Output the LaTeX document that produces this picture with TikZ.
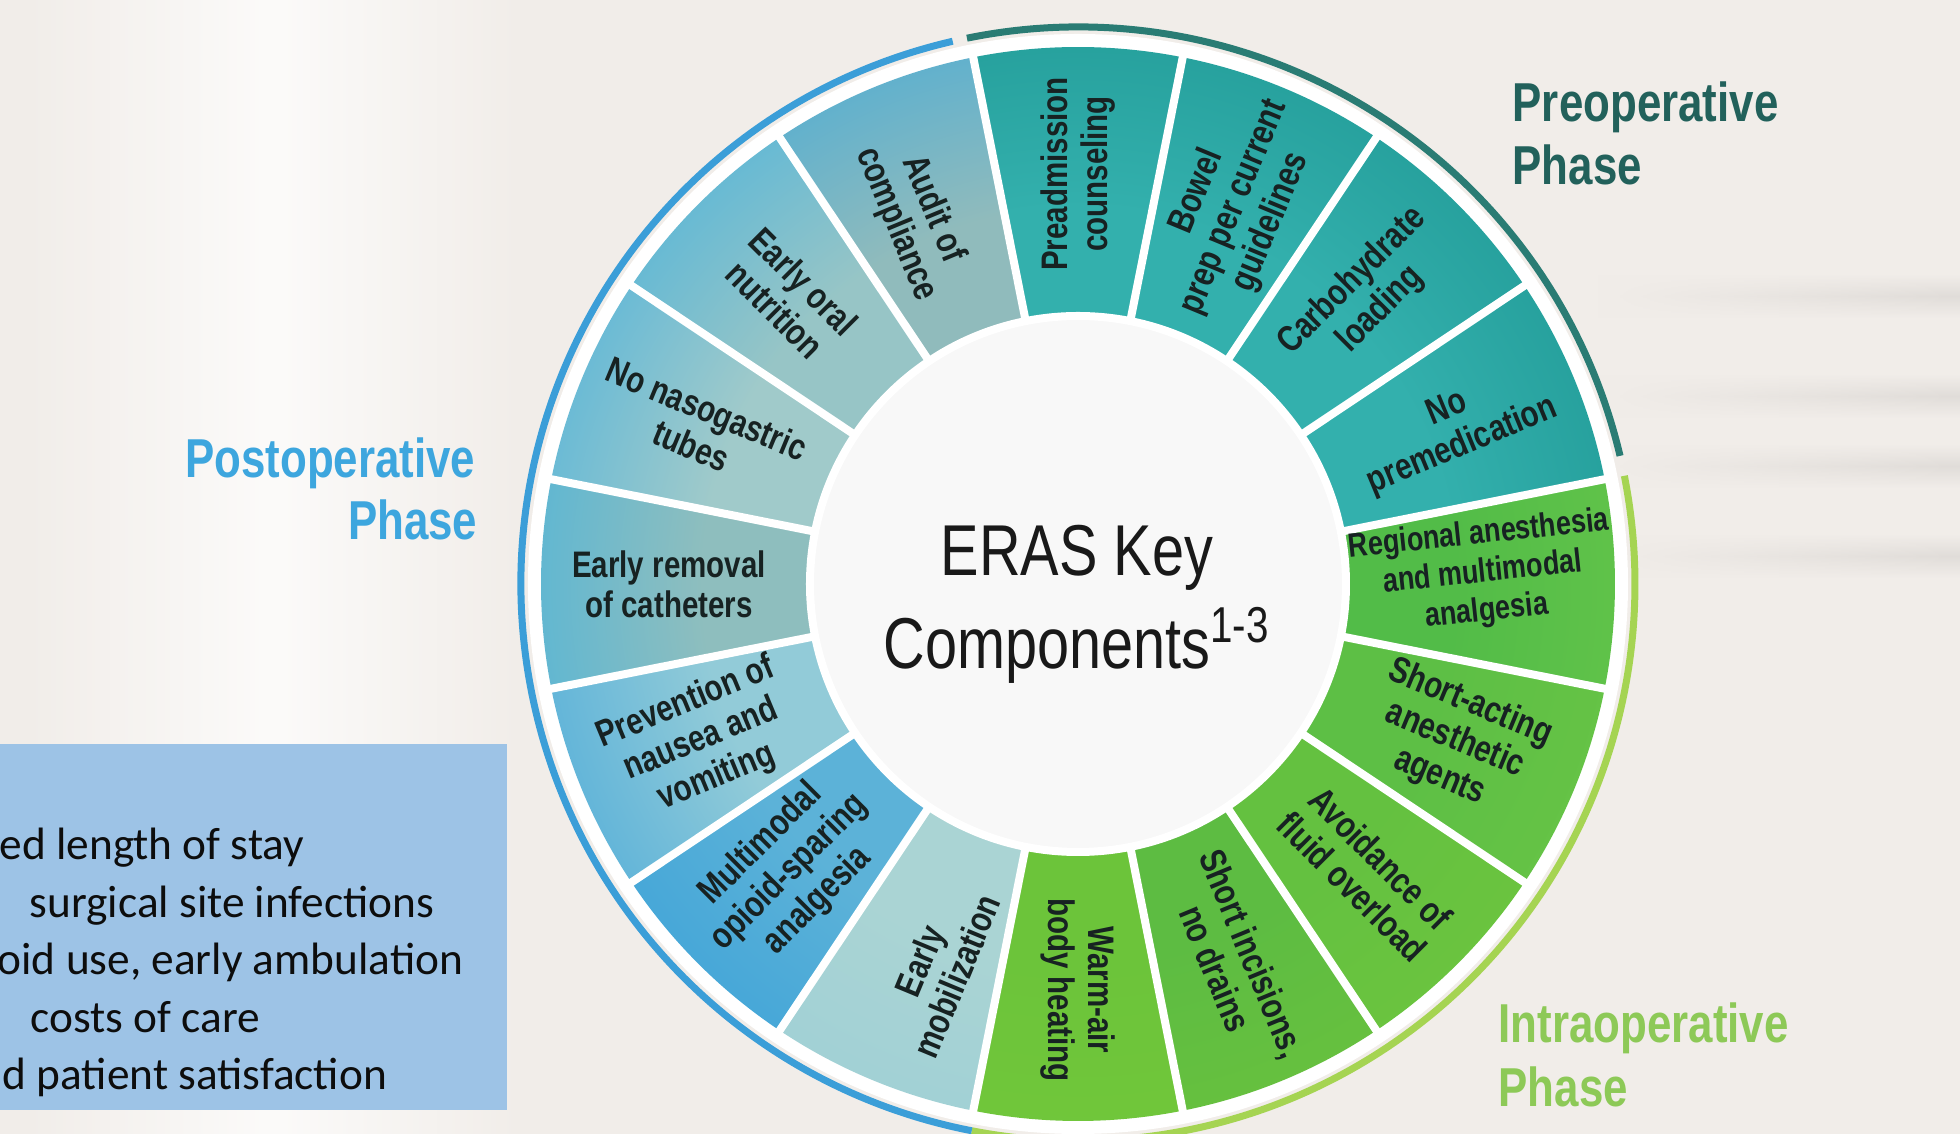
\documentclass[tikz,border=0pt]{standalone}
\usepackage{fontspec}
\setmainfont{Liberation Sans}[FakeStretch=0.8]
\newfontfamily\boxfont{Carlito}
\usetikzlibrary{positioning,fadings}

\definecolor{bg}{HTML}{F1EDE9}
\definecolor{labeltext}{HTML}{172222}
\definecolor{preteal}{HTML}{22615B}
\definecolor{prering}{HTML}{2A7C74}
\definecolor{postblue}{HTML}{3DA6DE}
\definecolor{postring}{HTML}{3B9ED8}
\definecolor{intragreen}{HTML}{8DC957}
\definecolor{intraring}{HTML}{A5D452}
\definecolor{boxblue}{HTML}{9DC3E6}
\definecolor{hub}{HTML}{F8F8F8}
\definecolor{segin}{HTML}{FFFFFF}
\definecolor{segout}{HTML}{FFFFFF}

% ring shading, stretched over the circle's diagonal box:
% segin at the hub edge (17.5bp), segout towards the rim
\pgfdeclareradialshading[segin,segout]{segshade}{\pgfpoint{0bp}{0bp}}{color(0bp)=(segin); color(17.5bp)=(segin); color(32bp)=(segout); color(50bp)=(segout)}
\tikzfading[name=fadein, left color=transparent!100, right color=transparent!0]

\begin{document}
\begin{tikzpicture}[x=0.1mm, y=0.1mm,
    seglabel/.style={font=\fontsize{10.5}{11.4}\selectfont\bfseries, text=labeltext, align=center, inner sep=0pt},
    phase/.style={font=\fontsize{15.6}{18}\selectfont\bfseries, inner sep=0pt},
    title/.style={font=\fontsize{20.5}{24}\selectfont, text=black!90, inner sep=0pt, anchor=base},
    gain/.style={font=\boxfont\fontsize{12.9}{15}\selectfont, text=black!95, inner sep=0pt, anchor=base west},
    sep/.style={white, line width=0.8mm},
    ring/.style={line width=0.7mm}]
\useasboundingbox (-1078,-550) rectangle (882,584);
\fill[bg] (-1078,-550) rectangle (882,584);
% soft light and grey patches of the backdrop
\shade[left color=bg, right color=bg, middle color=white!75!bg] (-1050,-550) rectangle (-560,584);
\foreach \yb in {310,210,140,50}
  \shade[top color=bg, bottom color=bg, middle color=black!7!bg, path fading=fadein] (520,\yb) rectangle (882,\yb-44);

% white halo behind the wheel
\fill[white] (0,0) circle (550);

% sixteen segments: centre angle / hub colour / rim colour
\foreach \a/\ci/\co in {0/52BC48/6CC84A, 22.5/33B0AD/1C9490, 45/33B0AD/1C9490, 67.5/33B0AD/1C9490,
    90/33B0AD/1C9490, 112.5/90BBBC/38A8DC, 135/97C5C6/3DB0E0, 157.5/A0CACA/3BADDF,
    180/8EBEBE/3AB1E2, 202.5/92CBD8/39A2DA, 225/5CB2D8/349ED8, 247.5/AAD4D4/9ACED6,
    270/6CC43A/74C83B, 292.5/5DBC42/6EC43C, 315/64C140/70C63E, 337.5/5DBF45/6CC646}{
  \begin{scope}
    \clip ({\a-11.25}:266) arc[start angle=\a-11.25, end angle=\a+11.25, radius=266]
      -- ({\a+11.25}:537) arc[start angle=\a+11.25, end angle=\a-11.25, radius=537] -- cycle;
    \definecolor{segin}{HTML}{\ci}\definecolor{segout}{HTML}{\co}
    \shade[shading=segshade] (0,0) circle (537);
  \end{scope}
}
\foreach \b in {11.25,33.75,...,350}
  \draw[sep] (\b:255) -- (\b:546);

% hub
\fill[hub] (0,0) circle (268);
\draw[white, line width=0.8mm] (0,0) circle (268);

% phase arcs
\draw[prering, ring] (101.5:557) arc[start angle=101.5, end angle=13.3, radius=557];
\draw[intraring, ring] (11.2:557) arc[start angle=11.2, end angle=-101, radius=557];
\draw[postring, ring] (103:557) arc[start angle=103, end angle=259, radius=557];

\node[title] (eras) at (-1,8) {ERAS Key};
\node[title] (comp) at (-1,-85) {Components\textsuperscript{1-3}};

% preoperative
\node[seglabel, rotate=90] (pre1) at (90:410) {Preadmission\\counseling};
\node[seglabel, rotate=67.5] (pre2) at (67.5:408) {Bowel\\prep per current\\guidelines};
\node[seglabel, rotate=45] (pre3) at (45:408) {Carbohydrate\\loading};
\node[seglabel, rotate=22.5] (pre4) at (22.5:408) {No\\premedication};
% intraoperative
\node[seglabel, rotate=6, font=\fontsize{9.6}{11}\selectfont\bfseries] (intra1) at (1.5:405) {Regional anesthesia\\and multimodal\\analgesia};
\node[seglabel, rotate=-22.5] (intra2) at (-22.5:408) {Short-acting\\anesthetic\\agents};
\node[seglabel, rotate=-45] (intra3) at (-45:408) {Avoidance of\\fluid overload};
\node[seglabel, rotate=-67.5] (intra4) at (-67.5:408) {Short incisions,\\no drains};
\node[seglabel, rotate=-90] (intra5) at (-90:406) {Warm-air\\body heating};
% postoperative
\node[seglabel, rotate=67.5] (post1) at (250:409) {Early\\mobilization};
\node[seglabel, rotate=45] (post2) at (225:408) {Multimodal\\opioid-sparing\\analgesia};
\node[seglabel, rotate=22.5] (post3) at (202.5:408) {Prevention of\\nausea and\\vomiting};
\node[seglabel] (post4) at (180:409) {Early removal\\of catheters};
\node[seglabel, rotate=-22.5] (post5) at (157.5:410) {No nasogastric\\tubes};
\node[seglabel, rotate=-45] (post6) at (135:408) {Early oral\\nutrition};
\node[seglabel, rotate=-67.5] (post7) at (114:402) {Audit of\\compliance};

% phase titles
\node[phase, text=preteal, anchor=base west] (pretitle) at (434,462) {Preoperative};
\node[phase, text=preteal, anchor=base west] (prephase) at (434,399) {Phase};
\node[phase, text=postblue, anchor=base east] (posttitle) at (-602,106) {Postoperative};
\node[phase, text=postblue, anchor=base east] (postphase) at (-600,44) {Phase};
\node[phase, text=intragreen, anchor=base west] (intratitle) at (420,-459) {Intraoperative};
\node[phase, text=intragreen, anchor=base west] (intraphase) at (420,-523) {Phase};

% outcomes box
\fill[boxblue] (-1078,-526) rectangle (-571,-160);
\node[gain] (gain1) at (-1079,-276) {ed length of stay};
\node[gain] (gain2) at (-1049,-333.5) {surgical site infections};
\node[gain] (gain3) at (-1081,-391) {oid use, early ambulation};
\node[gain] (gain4) at (-1048,-448.5) {costs of care};
\node[gain] (gain5) at (-1076,-506) {d patient satisfaction};
\end{tikzpicture}
\end{document}
